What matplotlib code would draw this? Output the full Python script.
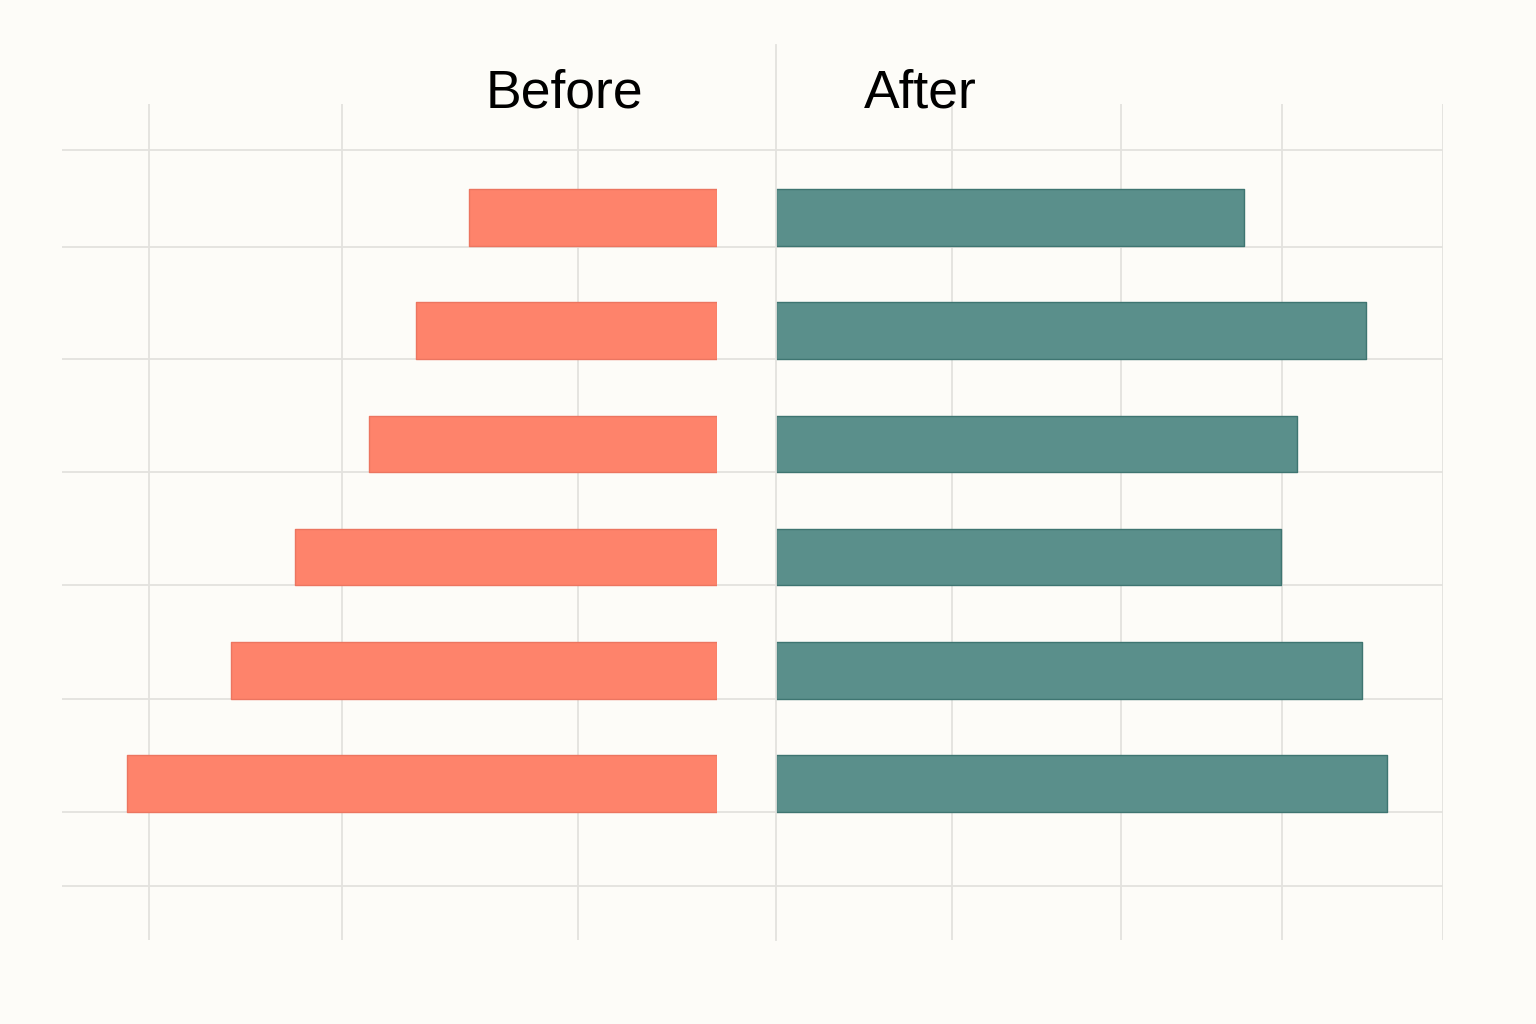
import matplotlib.pyplot as plt
from matplotlib.lines import Line2D

# données (unités arbitraires)
rows = list(range(6))
before = [42, 51, 59, 71.5, 82.3, 100]
after = [79.3, 100, 88.3, 85.5, 99.3, 103.5]

left_ticks = [23.5, 63.5, 96.2]
right_ticks = [0, 29.8, 58.5, 85.8, 113]
row_lines = [-0.59, 0.26, 1.25, 2.25, 3.25, 4.25, 5.25, 5.9]

bg = "#FDFCF8"
grid_c = "#E3E2DE"
salmon = "#FE836B"
teal = "#5A8F8B"

W, H = 1536, 1024
fig = plt.figure(figsize=(W / 100, H / 100), dpi=100, facecolor=bg)
plt.rcParams['font.family'] = ['Liberation Sans', 'DejaVu Sans']

def frac(x0, x1, y0=104, y1=940):
    return [x0 / W, 1 - y1 / H, (x1 - x0) / W, (y1 - y0) / H]

ylim = (6.38, -1.0)

# fond avec les lignes horizontales
ax_bg = fig.add_axes(frac(62, 1443))
ax_bg.set_ylim(*ylim)
ax_bg.set_xlim(0, 1)
ax_bg.set_yticks(row_lines)
ax_bg.set_xticks([])
ax_bg.grid(axis='y', color=grid_c, lw=1.3)
ax_bg.tick_params(left=False, labelleft=False)
ax_bg.set_facecolor(bg)
for s in ax_bg.spines.values():
    s.set_visible(False)

# partie gauche : Before
ax_l = fig.add_axes(frac(62, 717))
ax_l.barh(rows, before, height=0.5, color=salmon, edgecolor="#EC7560", lw=1,
          joinstyle='round', zorder=3)
ax_l.set_xlim(111, 0)
ax_l.set_ylim(*ylim)
ax_l.set_xticks(left_ticks)
ax_l.set_yticks([])
ax_l.grid(axis='x', color=grid_c, lw=1.3)

# partie droite : After
ax_r = fig.add_axes(frac(776, 1443))
ax_r.barh(rows, after, height=0.5, color=teal, edgecolor="#3E7571", lw=1,
          joinstyle='round', zorder=3)
ax_r.set_xlim(0, 113)
ax_r.set_ylim(*ylim)
ax_r.set_xticks(right_ticks[1:])
ax_r.set_yticks([])
ax_r.grid(axis='x', color=grid_c, lw=1.3)

for ax in (ax_l, ax_r):
    ax.patch.set_alpha(0)
    ax.tick_params(bottom=False, labelbottom=False, left=False)
    for s in ax.spines.values():
        s.set_visible(False)

# ligne centrale
fig.add_artist(Line2D([776 / W, 776 / W], [1 - 45 / H, 1 - 940 / H], color=grid_c, lw=1.3))

fig.text(564 / W, 1 - 108 / H, "Before", ha='center', va='baseline', fontsize=38.5, color="black")
fig.text(920 / W, 1 - 108 / H, "After", ha='center', va='baseline', fontsize=38.5, color="black")

plt.savefig("out.png", dpi=100, facecolor=bg)
